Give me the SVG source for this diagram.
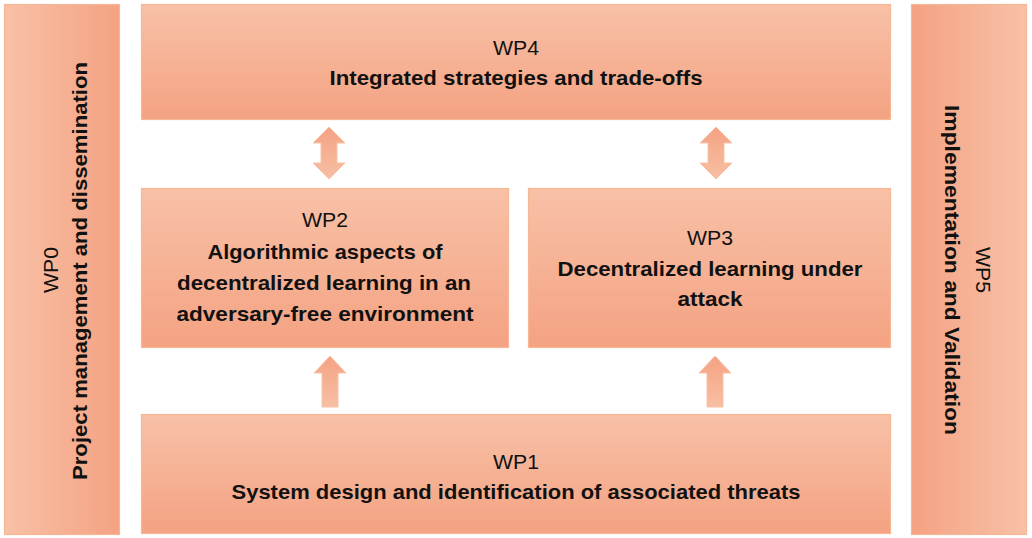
<svg xmlns="http://www.w3.org/2000/svg" width="1032" height="538" viewBox="0 0 1032 538">
<defs>
<linearGradient id="gv" x1="0" y1="0" x2="0" y2="1">
<stop offset="0" stop-color="#f8c1a7"/>
<stop offset="1" stop-color="#f4a282"/>
</linearGradient>
<linearGradient id="gl" x1="0" y1="0" x2="1" y2="0">
<stop offset="0" stop-color="#f8c1a7"/>
<stop offset="1" stop-color="#f4a282"/>
</linearGradient>
<linearGradient id="gr" x1="0" y1="0" x2="1" y2="0">
<stop offset="0" stop-color="#f4a282"/>
<stop offset="1" stop-color="#f8c1a7"/>
</linearGradient>
<linearGradient id="ga" x1="0" y1="0" x2="0" y2="1">
<stop offset="0" stop-color="#f4a282"/>
<stop offset="1" stop-color="#f8bfa4"/>
</linearGradient>
</defs>
<style>
.box{stroke:#f6b796;stroke-width:1.2}
.arr{fill:url(#ga);stroke:#f8c3a8;stroke-width:1}
.wp{font-family:"Liberation Sans",Arial,sans-serif;font-size:21px;fill:#111;text-anchor:middle}
.t{font-family:"Liberation Sans",Arial,sans-serif;font-size:21px;font-weight:bold;fill:#111;text-anchor:middle}
</style>
<rect width="1032" height="538" fill="#ffffff"/>

<g id="wp0">
<rect class="box" x="4.5" y="4.5" width="115" height="530" fill="url(#gl)"/>
<text class="wp" transform="translate(58,270) rotate(-90)" textLength="46" lengthAdjust="spacingAndGlyphs">WP0</text>
<text class="t" transform="translate(87,271) rotate(-90)" textLength="418" lengthAdjust="spacingAndGlyphs">Project management and dissemination</text>
</g>

<g id="wp5">
<rect class="box" x="911.5" y="4.5" width="115" height="530" fill="url(#gr)"/>
<text class="wp" transform="translate(976,270) rotate(90)" textLength="46" lengthAdjust="spacingAndGlyphs">WP5</text>
<text class="t" transform="translate(945,270) rotate(90)" textLength="330" lengthAdjust="spacingAndGlyphs">Implementation and Validation</text>
</g>

<g id="wp4">
<rect class="box" x="141.5" y="4.5" width="749" height="115" fill="url(#gv)"/>
<text class="wp" x="516" y="55" textLength="46" lengthAdjust="spacingAndGlyphs">WP4</text>
<text class="t" x="516" y="85" textLength="373" lengthAdjust="spacingAndGlyphs">Integrated strategies and trade-offs</text>
</g>

<g id="wp2">
<rect class="box" x="141.5" y="188.5" width="367" height="159" fill="url(#gv)"/>
<text class="wp" x="325" y="227" textLength="46" lengthAdjust="spacingAndGlyphs">WP2</text>
<text class="t" x="325" y="259" textLength="235" lengthAdjust="spacingAndGlyphs">Algorithmic aspects of</text>
<text class="t" x="324" y="290" textLength="294" lengthAdjust="spacingAndGlyphs">decentralized learning in an</text>
<text class="t" x="325" y="321" textLength="297" lengthAdjust="spacingAndGlyphs">adversary-free environment</text>
</g>

<g id="wp3">
<rect class="box" x="528.5" y="188.5" width="362" height="159" fill="url(#gv)"/>
<text class="wp" x="710" y="245" textLength="46" lengthAdjust="spacingAndGlyphs">WP3</text>
<text class="t" x="710" y="276" textLength="305" lengthAdjust="spacingAndGlyphs">Decentralized learning under</text>
<text class="t" x="710" y="306" textLength="65" lengthAdjust="spacingAndGlyphs">attack</text>
</g>

<g id="wp1">
<rect class="box" x="141.5" y="414.5" width="749" height="119" fill="url(#gv)"/>
<text class="wp" x="516" y="469" textLength="46" lengthAdjust="spacingAndGlyphs">WP1</text>
<text class="t" x="516" y="499" textLength="569" lengthAdjust="spacingAndGlyphs">System design and identification of associated threats</text>
</g>

<g id="connectors">
<path class="arr" d="M329,127 L345,143 L337,143 L337,163 L345,163 L329,179 L313,163 L321,163 L321,143 L313,143 Z"/>
<path class="arr" d="M716,127 L732,143 L724,143 L724,163 L732,163 L716,179 L700,163 L708,163 L708,143 L700,143 Z"/>
<path class="arr" d="M330,356 L346,373 L338,373 L338,407 L322,407 L322,373 L314,373 Z"/>
<path class="arr" d="M715,356 L731,373 L723,373 L723,407 L707,407 L707,373 L699,373 Z"/>
</g>
</svg>
